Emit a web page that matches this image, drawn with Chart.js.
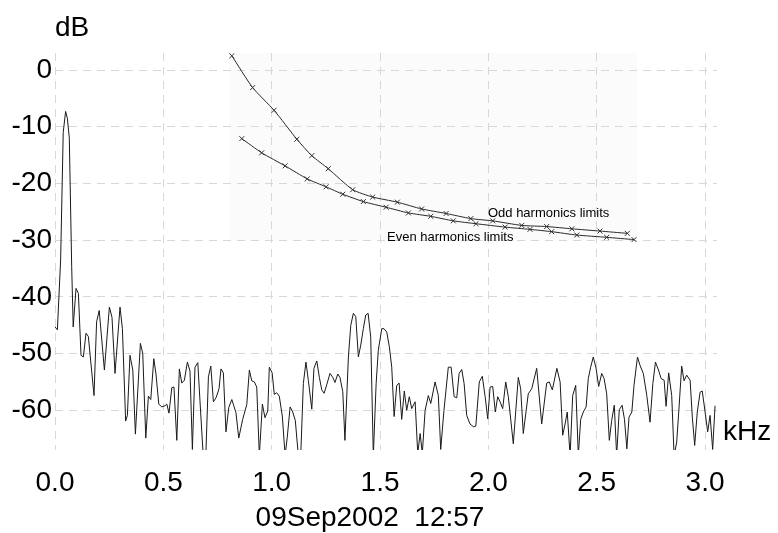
<!DOCTYPE html>
<html>
<head>
<meta charset="utf-8">
<script src="https://cdn.jsdelivr.net/npm/chart.js@4/dist/chart.umd.min.js"></script>
<style>
  html, body { margin: 0; padding: 0; background: #ffffff; }
  #wrap { width: 778px; height: 533px; position: relative; }
</style>
</head>
<body>
<div id="wrap"><canvas id="c" width="778" height="533"></canvas></div>
<script>
// ---- data (frequency in kHz, level in dB) ----
const noiseFreq = [
  0.000,0.011,0.026,0.038,0.049,0.057,0.066,0.077,0.084,0.097,0.108,0.120,0.131,0.143,0.154,0.180,0.192,0.204,0.228,0.251,
  0.263,0.277,0.300,0.311,0.326,0.334,0.346,0.359,0.371,0.394,0.405,0.419,0.431,0.442,0.456,0.466,0.479,0.492,0.508,0.516,
  0.526,0.539,0.549,0.562,0.574,0.585,0.597,0.611,0.623,0.634,0.646,0.659,0.669,0.684,0.696,0.708,0.719,0.731,0.743,0.757,
  0.766,0.777,0.789,0.802,0.816,0.835,0.848,0.866,0.885,0.897,0.908,0.920,0.931,0.943,0.957,0.969,0.982,0.989,1.002,1.012,
  1.023,1.035,1.049,1.062,1.072,1.085,1.097,1.109,1.123,1.134,1.146,1.158,1.169,1.185,1.195,1.208,1.220,1.231,1.242,1.254,
  1.269,1.282,1.292,1.305,1.315,1.328,1.338,1.354,1.365,1.377,1.388,1.400,1.411,1.423,1.434,1.445,1.457,1.469,1.482,1.492,
  1.508,1.518,1.531,1.543,1.554,1.565,1.577,1.588,1.600,1.612,1.623,1.635,1.646,1.662,1.674,1.685,1.695,1.708,1.723,1.734,
  1.754,1.769,1.780,1.795,1.815,1.828,1.842,1.854,1.865,1.877,1.888,1.900,1.915,1.931,1.942,1.958,1.972,1.985,1.997,2.008,
  2.020,2.032,2.043,2.054,2.066,2.080,2.092,2.115,2.138,2.149,2.161,2.184,2.200,2.223,2.246,2.269,2.281,2.295,2.316,2.331,
  2.343,2.354,2.364,2.377,2.389,2.403,2.415,2.426,2.438,2.451,2.461,2.472,2.484,2.497,2.509,2.523,2.534,2.546,2.558,2.569,
  2.581,2.592,2.604,2.617,2.628,2.639,2.649,2.662,2.672,2.688,2.700,2.715,2.731,2.746,2.759,2.771,2.785,2.797,2.811,2.820,
  2.832,2.846,2.857,2.869,2.880,2.892,2.903,2.915,2.931,2.941,2.952,2.964,2.977,2.987,3.000,3.012,3.023,3.035,3.046
];
const noiseDb = [
  -45.3,-45.8,-33.5,-11.0,-7.3,-8.5,-12.0,-34.6,-45.3,-38.5,-39.4,-50.3,-50.6,-46.4,-47.0,-57.4,-44.4,-42.4,-52.9,-41.8,
  -43.6,-53.5,-41.8,-45.6,-61.9,-60.9,-50.3,-52.9,-64.2,-48.2,-50.0,-64.9,-57.5,-58.1,-50.9,-53.6,-58.9,-59.4,-59.2,-58.9,
  -60.5,-56.0,-55.9,-65.3,-52.7,-55.2,-54.7,-51.5,-53.1,-66.9,-52.4,-51.6,-58.3,-68.0,-68.0,-54.1,-52.2,-58.5,-57.8,-56.2,
  -52.7,-53.4,-63.8,-59.5,-58.1,-60.4,-64.9,-61.6,-59.0,-52.9,-54.8,-55.0,-55.9,-68.0,-58.9,-61.3,-60.1,-52.4,-53.4,-57.2,
  -56.9,-57.5,-61.0,-68.0,-64.7,-59.4,-60.3,-61.8,-68.0,-68.0,-55.3,-51.5,-54.7,-59.8,-52.6,-51.3,-54.2,-56.4,-57.0,-55.5,
  -53.5,-54.2,-55.1,-53.6,-54.2,-56.7,-65.3,-50.6,-45.0,-42.9,-43.5,-50.6,-48.5,-45.6,-43.2,-42.9,-47.1,-68.0,-55.3,-49.4,
  -45.6,-45.6,-46.2,-48.8,-52.4,-61.1,-55.6,-55.2,-61.6,-56.6,-60.0,-57.6,-59.7,-58.5,-67.6,-64.1,-67.6,-60.0,-57.4,-58.8,
  -55.0,-57.4,-66.9,-60.0,-52.4,-52.4,-57.6,-57.8,-53.5,-52.8,-55.3,-60.9,-62.4,-62.9,-62.8,-55.0,-54.0,-57.6,-61.5,-55.9,
  -55.8,-60.3,-57.6,-58.5,-59.7,-55.0,-57.6,-65.9,-54.2,-56.2,-64.1,-57.1,-56.2,-52.6,-62.4,-55.2,-55.0,-56.4,-52.6,-55.0,
  -64.4,-62.4,-60.3,-68.0,-57.4,-55.6,-68.0,-61.6,-60.3,-59.4,-54.4,-52.4,-50.6,-52.6,-55.8,-53.5,-54.4,-57.1,-65.3,-61.8,
  -59.1,-68.0,-59.9,-59.1,-61.6,-66.8,-61.2,-60.3,-55.6,-50.6,-52.1,-53.5,-57.4,-62.1,-55.3,-51.5,-52.9,-54.4,-54.7,-59.3,
  -53.4,-57.4,-68.0,-65.6,-59.4,-52.2,-54.8,-53.8,-54.7,-61.2,-66.2,-60.3,-56.8,-56.6,-60.3,-63.8,-60.9,-66.9,-59.2
];
const oddFreq = [0.816,0.912,1.011,1.116,1.185,1.261,1.374,1.466,1.580,1.692,1.805,1.919,2.020,2.154,2.269,2.385,2.515,2.641];
const oddDb   = [2.5,-3.1,-7.1,-12.2,-15.1,-17.4,-21.1,-22.4,-23.3,-24.5,-25.3,-26.2,-26.6,-27.4,-27.6,-28.0,-28.4,-28.8];
const evenFreq = [0.862,0.954,1.062,1.164,1.251,1.328,1.423,1.528,1.631,1.734,1.838,1.943,2.077,2.192,2.292,2.408,2.546,2.672];
const evenDb   = [-12.1,-14.6,-16.9,-19.2,-20.6,-21.9,-23.2,-24.2,-25.2,-25.8,-26.6,-27.1,-27.7,-28.1,-28.5,-29.1,-29.5,-29.9];
const xTickValues = [0.0, 0.5, 1.0, 1.5, 2.0, 2.5, 3.0];
const yTickValues = [0, -10, -20, -30, -40, -50, -60];
const yUnit = 'dB';
const xUnit = 'kHz';
const stamp = '09Sep2002  12:57';
const curveLabels = ['Odd harmonics limits', 'Even harmonics limits'];

// ---- helpers ----
const pts = (xs, ys) => xs.map((x, i) => ({ x: x, y: ys[i] }));
const FONT = "Arial, 'Liberation Sans', sans-serif";

const decor = {
  id: 'decor',
  beforeDraw(chart) {
    const { ctx, chartArea, scales } = chart;
    const allF = oddFreq.concat(evenFreq);
    const allD = oddDb.concat(evenDb);
    const l = scales.x.getPixelForValue(Math.min(...allF)) - 3;
    const r = scales.x.getPixelForValue(Math.max(...allF)) + 3;
    const b = scales.y.getPixelForValue(Math.min(...allD)) + 1;
    ctx.save();
    ctx.fillStyle = '#fbfbfb';
    ctx.fillRect(l, chartArea.top, r - l, b - chartArea.top);
    ctx.restore();
  },
  afterDraw(chart) {
    const { ctx, chartArea, scales } = chart;
    ctx.save();
    ctx.fillStyle = '#000';
    ctx.textBaseline = 'middle';
    ctx.textAlign = 'left';
    ctx.font = '28px ' + FONT;
    ctx.fillText(yUnit, chartArea.left, 28);
    ctx.fillText(xUnit, chartArea.right + 6, 432);
    ctx.textAlign = 'center';
    ctx.fillText(stamp, 370, 518);
    ctx.textAlign = 'left';
    ctx.font = '13px ' + FONT;
    ctx.fillText(curveLabels[0], scales.x.getPixelForValue(1.998), scales.y.getPixelForValue(-25.2));
    ctx.fillText(curveLabels[1], scales.x.getPixelForValue(1.532), scales.y.getPixelForValue(-29.5));
    ctx.restore();
  }
};

const gridStyle = {
  color: '#d8d8d8',
  lineWidth: 1,
  drawTicks: false
};

new Chart(document.getElementById('c'), {
  type: 'line',
  data: {
    datasets: [
      {
        label: 'spectrum',
        data: pts(noiseFreq, noiseDb),
        borderColor: '#1a1a1a',
        borderWidth: 1,
        pointRadius: 0,
        tension: 0
      },
      {
        label: curveLabels[0],
        data: pts(oddFreq, oddDb),
        borderColor: '#2a2a2a',
        borderWidth: 1,
        pointStyle: 'crossRot',
        pointRadius: 3.5,
        pointBorderWidth: 1,
        pointBorderColor: '#333',
        tension: 0.2
      },
      {
        label: curveLabels[1],
        data: pts(evenFreq, evenDb),
        borderColor: '#2a2a2a',
        borderWidth: 1,
        pointStyle: 'crossRot',
        pointRadius: 3.5,
        pointBorderWidth: 1,
        pointBorderColor: '#333',
        tension: 0.2
      }
    ]
  },
  options: {
    responsive: false,
    animation: false,
    events: [],
    layout: { padding: { top: 53, right: 61, left: 0, bottom: 0 } },
    plugins: { legend: { display: false }, tooltip: { enabled: false }, title: { display: false } },
    scales: {
      x: {
        type: 'linear',
        min: 0,
        max: 3.055,
        afterBuildTicks: (s) => { s.ticks = xTickValues.map(v => ({ value: v })); },
        afterFit: (s) => { s.height = 83; },
        grid: Object.assign({}, gridStyle),
        border: { display: false, dash: [8, 6] },
        ticks: {
          color: '#000',
          font: { family: FONT, size: 28 },
          padding: 16,
          maxRotation: 0,
          autoSkip: false,
          callback: (v) => Number(v).toFixed(1)
        }
      },
      y: {
        type: 'linear',
        min: -67,
        max: 3,
        afterBuildTicks: (s) => { s.ticks = yTickValues.map(v => ({ value: v })); },
        afterFit: (s) => { s.width = 55; },
        grid: Object.assign({}, gridStyle),
        border: { display: false, dash: [8, 6] },
        ticks: {
          color: '#000',
          font: { family: FONT, size: 28 },
          padding: 3,
          autoSkip: false,
          callback: (v) => String(v)
        }
      }
    }
  },
  plugins: [decor]
});
</script>
</body>
</html>
